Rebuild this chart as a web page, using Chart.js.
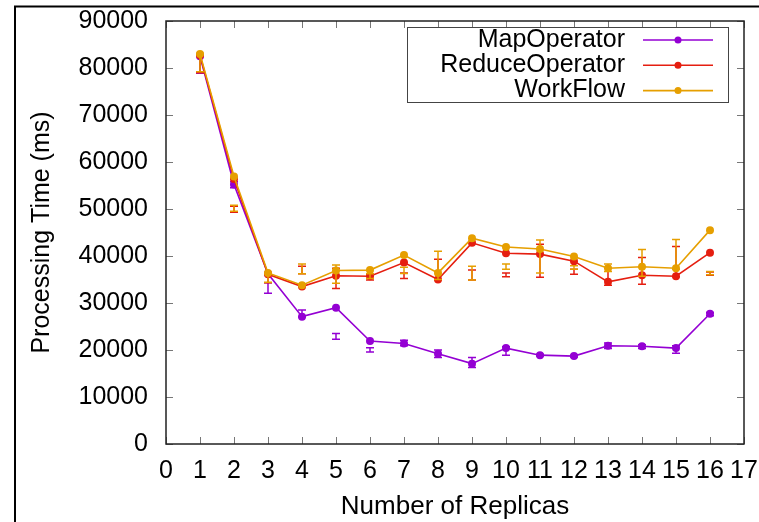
<!DOCTYPE html>
<html>
<head>
<meta charset="utf-8">
<title>Processing Time vs Number of Replicas</title>
<script src="https://cdn.jsdelivr.net/npm/chart.js@4.4.1/dist/chart.umd.min.js"></script>
<style>
  html, body { margin: 0; padding: 0; background: #fff; }
</style>
</head>
<body>
<canvas id="timeChart" width="759" height="522"></canvas>
<script>
// 데이터
const replicas = [1, 2, 3, 4, 5, 6, 7, 8, 9, 10, 11, 12, 13, 14, 15, 16];

const mapTime      = [82500, 55200, 36200, 27100, 29000, 21900, 21400, 19200, 17100, 20400, 18900, 18700, 20900, 20800, 20400, 27700];
const reduceTime   = [82700, 56400, 36100, 33500, 35800, 35700, 38600, 35000, 42800, 40600, 40400, 38900, 34500, 35900, 35700, 40700];
const workflowTime = [83000, 56900, 36400, 33800, 36900, 37000, 40200, 36400, 43800, 41900, 41500, 39900, 37400, 37700, 37400, 45500];

// error bar ranges
const mapLow       = [78900, 54500, 32100, 27000, 22300, 19600, 20900, 18400, 16300, 18900, 18700, 18500, 20300, 20300, 19300, 27300];
const mapHigh      = [83000, 55800, 34300, 28500, 23500, 20500, 22100, 20000, 18400, 20700, 19100, 18900, 21500, 21100, 20900, 28000];
const reduceLow    = [79000, 49300, 34300, 36200, 33100, 34900, 35200, 34900, 34900, 35600, 35500, 36100, 33800, 34000, 35600, 35900];
const reduceHigh   = [83000, 50600, 36000, 37800, 37400, 36000, 36400, 39300, 37000, 36400, 42500, 37200, 37400, 39700, 42000, 36600];
const workflowLow  = [79200, 49500, 34400, 36200, 34200, 35200, 36300, 35000, 34900, 37200, 36400, 37200, 36700, 35700, 37200, 36000];
const workflowHigh = [83100, 50800, 36400, 38300, 38100, 36200, 37600, 41000, 37800, 38300, 43400, 37900, 38300, 41400, 43500, 36700];

const xTicks = [0, 1, 2, 3, 4, 5, 6, 7, 8, 9, 10, 11, 12, 13, 14, 15, 16, 17];
const yTicks = [0, 10000, 20000, 30000, 40000, 50000, 60000, 70000, 80000, 90000];

const labels = ['MapOperator', 'ReduceOperator', 'WorkFlow'];
const colors = ['#9400D3', '#E51E10', '#E69F00'];

function toPoints(values) {
    return replicas.map((r, i) => ({ x: r, y: values[i] }));
}

function makeSet(i, values, low, high) {
    return {
        label: labels[i],
        data: toPoints(values),
        errLow: low,
        errHigh: high,
        borderColor: colors[i],
        backgroundColor: colors[i],
        borderWidth: 1.6,
        pointRadius: 4,
        pointBorderWidth: 0,
        tension: 0,
        order: 2 - i,
    };
}

// 축 크기 고정 (라벨 여백 무시)
function fixBox(size) {
    return s => {
        if (s.isHorizontal()) s.height = size; else s.width = size;
        s.paddingTop = s.paddingBottom = s.paddingLeft = s.paddingRight = 0;
    };
}

// gnuplot 스타일 테두리, 눈금, 오차막대, 범례
const gnuplotStyle = {
    id: 'gnuplotStyle',
    beforeDatasetsDraw(chart) {
        const { ctx, chartArea: a, scales } = chart;
        ctx.save();
        ctx.strokeStyle = '#777';
        ctx.lineWidth = 1;
        ctx.beginPath();
        xTicks.forEach(v => {
            const x = Math.round(scales.x.getPixelForValue(v)) + 0.5;
            ctx.moveTo(x, a.bottom); ctx.lineTo(x, a.bottom - 7);
            ctx.moveTo(x, a.top); ctx.lineTo(x, a.top + 7);
        });
        yTicks.forEach(v => {
            const y = Math.round(scales.y.getPixelForValue(v)) + 0.5;
            ctx.moveTo(a.left, y); ctx.lineTo(a.left + 7, y);
            ctx.moveTo(a.right, y); ctx.lineTo(a.right - 7, y);
        });
        ctx.stroke();
        ctx.strokeStyle = '#222';
        ctx.lineWidth = 1.5;
        ctx.strokeRect(a.left, a.top, a.right - a.left, a.bottom - a.top);
        ctx.restore();
    },
    afterDatasetDraw(chart, args) {
        const ds = chart.data.datasets[args.index];
        const { ctx, scales } = chart;
        ctx.save();
        ctx.strokeStyle = ds.borderColor;
        ctx.lineWidth = 1.5;
        ctx.beginPath();
        replicas.forEach((r, i) => {
            const x = scales.x.getPixelForValue(r);
            const y1 = scales.y.getPixelForValue(ds.errLow[i]);
            const y2 = scales.y.getPixelForValue(ds.errHigh[i]);
            ctx.moveTo(x, y1); ctx.lineTo(x, y2);
            ctx.moveTo(x - 4, y1); ctx.lineTo(x + 4, y1);
            ctx.moveTo(x - 4, y2); ctx.lineTo(x + 4, y2);
        });
        ctx.stroke();
        ctx.restore();
    },
    afterDraw(chart) {
        const ctx = chart.ctx;
        ctx.save();
        // 바깥 테두리
        ctx.strokeStyle = '#000';
        ctx.lineWidth = 2;
        ctx.beginPath();
        ctx.moveTo(15, 522); ctx.lineTo(15, 6.5); ctx.lineTo(759, 6.5);
        ctx.stroke();

        // 범례
        ctx.strokeStyle = '#444';
        ctx.lineWidth = 1;
        ctx.strokeRect(407.5, 27.5, 321, 75);
        ctx.font = "25px 'Liberation Sans', Arial, sans-serif";
        ctx.textAlign = 'right';
        ctx.textBaseline = 'middle';
        chart.data.datasets.forEach((ds, i) => {
            const y = 40 + i * 25.3;
            ctx.fillStyle = '#000';
            ctx.fillText(ds.label, 625, y);
            ctx.strokeStyle = ds.borderColor;
            ctx.lineWidth = 1.6;
            ctx.beginPath();
            ctx.moveTo(643, y); ctx.lineTo(713, y);
            ctx.stroke();
            ctx.fillStyle = ds.borderColor;
            ctx.beginPath();
            ctx.arc(678, y, 3.5, 0, Math.PI * 2);
            ctx.fill();
        });
        ctx.restore();
    }
};

Chart.defaults.font.family = "'Liberation Sans', Arial, sans-serif";
Chart.defaults.color = '#000';

const ctx = document.getElementById('timeChart').getContext('2d');
const chart = new Chart(ctx, {
    type: 'line',
    data: {
        datasets: [
            makeSet(0, mapTime, mapLow, mapHigh),
            makeSet(1, reduceTime, reduceLow, reduceHigh),
            makeSet(2, workflowTime, workflowLow, workflowHigh),
        ]
    },
    options: {
        responsive: false,
        animation: false,
        layout: { padding: { top: 21, right: 15, left: 0, bottom: 0 } },
        scales: {
            x: {
                type: 'linear',
                min: 0,
                max: 17,
                afterBuildTicks: s => { s.ticks = xTicks.map(v => ({ value: v })); },
                afterFit: fixBox(78),
                grid: { display: false, drawTicks: false },
                border: { display: false },
                ticks: { font: { size: 25 }, padding: 12, maxRotation: 0, autoSkip: false, callback: v => String(v) },
                title: { display: true, text: 'Number of Replicas', font: { size: 26 }, padding: { top: 0, bottom: 0 } },
            },
            y: {
                type: 'linear',
                min: 0,
                max: 90000,
                afterBuildTicks: s => { s.ticks = yTicks.map(v => ({ value: v })); },
                afterFit: fixBox(166),
                grid: { display: false, drawTicks: false },
                border: { display: false },
                ticks: { font: { size: 25 }, padding: 18, autoSkip: false, callback: v => String(v) },
                title: { display: true, text: 'Processing Time (ms)', font: { size: 25 }, padding: { top: 27, bottom: 0 } },
            }
        },
        plugins: {
            legend: { display: false },
            tooltip: { enabled: false },
        }
    },
    plugins: [gnuplotStyle],
});
</script>
</body>
</html>
